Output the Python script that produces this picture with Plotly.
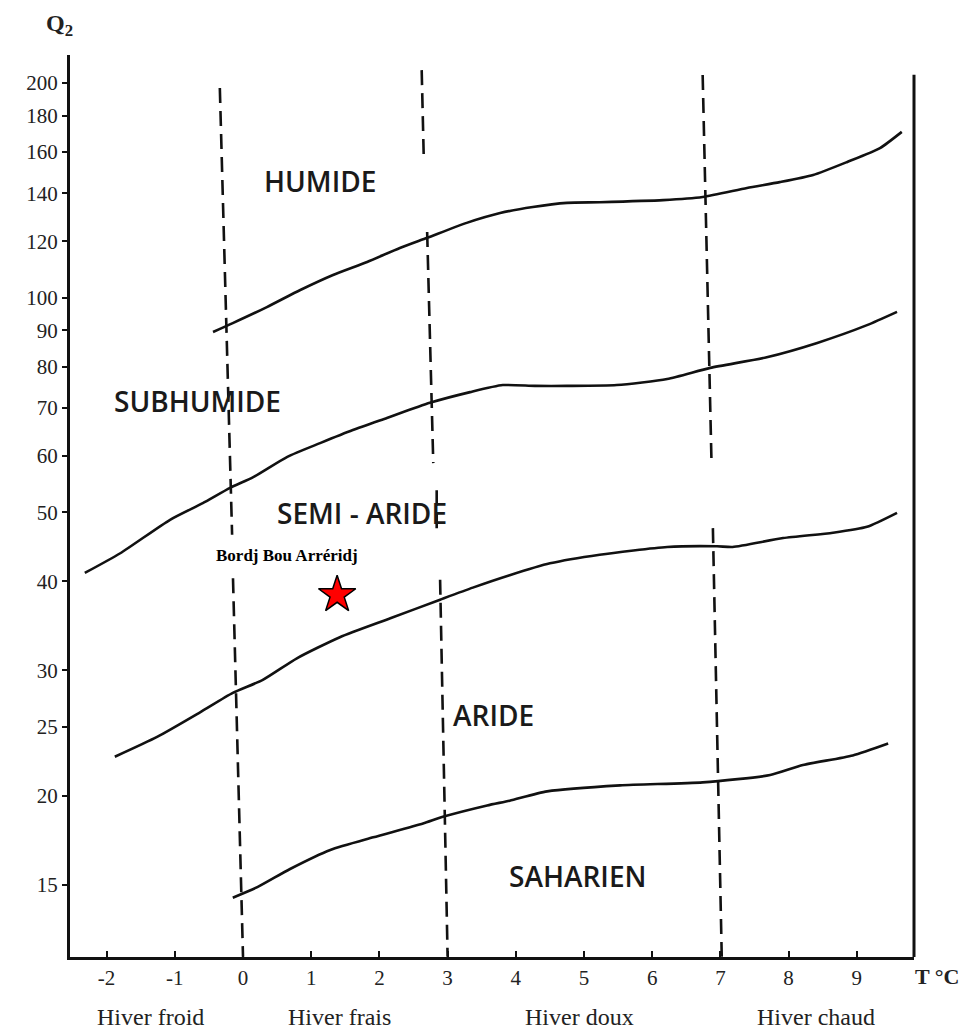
import math
import plotly.graph_objects as go

# ---------------- data ----------------
# Emberger climagram limits: T (m, °C) vs Q2 (log scale)
t_lim1 = [-0.44, -0.15, 0.35, 0.84, 1.32, 1.82, 2.30, 2.70, 3.28, 3.77, 4.25,
          4.75, 5.23, 6.16, 6.74, 7.39, 7.87, 8.36, 8.86, 9.34, 9.66]
q_lim1 = [89.5, 92.1, 97.0, 102.5, 107.6, 112.2, 117.4, 121.3, 127.3, 131.4, 134.0,
          135.8, 136.1, 137.0, 138.4, 142.5, 145.2, 148.6, 155.0, 162.1, 170.8]

t_lim2 = [-2.32, -1.80, -1.07, -0.59, -0.19, 0.15, 0.65, 1.13, 1.61, 2.11, 2.74,
          3.33, 3.81, 4.28, 4.75, 5.48, 6.22, 6.85, 7.68, 8.42, 9.15, 9.59]
q_lim2 = [41.1, 43.8, 48.8, 51.5, 54.1, 56.0, 59.8, 62.5, 65.2, 67.8, 71.2,
          73.7, 75.4, 75.2, 75.2, 75.4, 76.9, 79.7, 82.5, 86.4, 91.5, 95.5]

t_lim3 = [-1.88, -1.26, -0.63, -0.15, 0.29, 0.79, 1.42, 2.16, 2.89, 3.37, 3.91,
          4.50, 5.23, 6.22, 6.95, 7.18, 7.92, 8.65, 9.15, 9.59]
q_lim3 = [22.7, 24.2, 26.2, 27.9, 29.1, 31.2, 33.4, 35.5, 37.7, 39.2, 40.8,
          42.4, 43.6, 44.7, 44.8, 44.7, 46.0, 46.8, 47.7, 49.9]

t_lim4 = [-0.15, 0.21, 0.69, 1.28, 1.91, 2.64, 2.93, 3.58, 3.91, 4.46, 5.53,
          6.74, 7.73, 8.21, 8.94, 9.46]
q_lim4 = [14.4, 14.9, 15.8, 16.8, 17.5, 18.3, 18.7, 19.4, 19.7, 20.3, 20.7,
          20.9, 21.4, 22.1, 22.8, 23.7]

# winter-type dividers (dashed), None = gap in the scanned line
t_div_a = [-0.34, -0.16, None, -0.147, 0.0]
q_div_a = [196.8, 46.5, None, 40.4, 11.9]
t_div_b = [2.62, 2.65, None, 2.70, 2.79, None, 2.84, 2.84, None, 2.89, 3.0]
q_div_b = [208.5, 157.5, None, 123.6, 58.6, None, 53.7, 47.2, None, 40.2, 11.9]
t_div_c = [6.74, 6.87, None, 6.89, 7.02]
q_div_c = [205.2, 58.6, None, 47.5, 11.9]

# station
station_name = "Bordj Bou Arréridj"
station_t = [1.38]
station_q = [38.3]

# zone labels
zone_names = ["HUMIDE", "SUBHUMIDE", "SEMI - ARIDE", "ARIDE", "SAHARIEN"]
zone_t = [1.13, -0.67, 1.74, 3.68, 4.91]
zone_q = [145.8, 71.6, 49.9, 26.0, 15.45]

winter_names = ["Hiver froid", "Hiver frais", "Hiver doux", "Hiver chaud"]
winter_t = [-1.35, 1.42, 4.94, 8.40]

x_ticks = list(range(-2, 10))
y_ticks = [15, 20, 25, 30, 40, 50, 60, 70, 80, 90, 100, 120, 140, 160, 180, 200]

# ---------------- figure ----------------
fig = go.Figure()

line_style = dict(color="#111111", width=2.6, shape="spline", smoothing=0.6)
for tx, qy in [(t_lim1, q_lim1), (t_lim2, q_lim2), (t_lim3, q_lim3), (t_lim4, q_lim4)]:
    fig.add_trace(go.Scatter(x=tx, y=qy, mode="lines", line=line_style,
                             hoverinfo="skip", showlegend=False))

dash_style = dict(color="#111111", width=2.6, dash="15px,8px")
for tx, qy in [(t_div_a, q_div_a), (t_div_b, q_div_b), (t_div_c, q_div_c)]:
    fig.add_trace(go.Scatter(x=tx, y=qy, mode="lines", line=dash_style,
                             connectgaps=False, hoverinfo="skip", showlegend=False))

fig.add_trace(go.Scatter(
    x=station_t, y=station_q, mode="markers",
    marker=dict(symbol="star", size=28, color="#ff0000",
                line=dict(color="black", width=1.5)),
    showlegend=False, name=station_name))

serif = "Liberation Serif"
sans = "Open Sans"

annotations = []
for name, tx, qy in zip(zone_names, zone_t, zone_q):
    annotations.append(dict(x=tx, y=math.log10(qy), xref="x", yref="y", text=name,
                            showarrow=False, xanchor="center", yanchor="middle",
                            font=dict(family=sans, size=28, color="#1a1a1a", weight=600)))

annotations.append(dict(x=station_t[0], y=math.log10(station_q[0]), xref="x", yref="y",
                        text="<b>" + station_name + "</b>", showarrow=False,
                        xshift=-50, yshift=39, xanchor="center", yanchor="middle",
                        font=dict(family=serif, size=17, color="black")))

for name, tx in zip(winter_names, winter_t):
    annotations.append(dict(x=tx, y=-0.066, xref="x", yref="paper", text=name,
                            showarrow=False, xanchor="center", yanchor="middle",
                            font=dict(family=serif, size=24, color="#222222")))

annotations.append(dict(x=-0.013, y=1.033, xref="paper", yref="paper",
                        text="<b>Q<sub>2</sub></b>", showarrow=False,
                        xanchor="center", yanchor="middle",
                        font=dict(family=serif, size=24, color="#222222")))
annotations.append(dict(x=1.027, y=-0.022, xref="paper", yref="paper",
                        text="<b>T °C</b>", showarrow=False,
                        xanchor="center", yanchor="middle",
                        font=dict(family=serif, size=22, color="#222222")))

# the page body adds an 8px offset, so sizes/margins are shifted to compensate
fig.update_layout(
    width=960, height=1024,
    margin=dict(l=62, r=54, t=47, b=75),
    paper_bgcolor="white", plot_bgcolor="white",
    annotations=annotations,
    shapes=[dict(type="line", xref="paper", yref="paper", x0=1, x1=1, y0=0, y1=0.978,
                 line=dict(color="#111111", width=3))],
    xaxis=dict(range=[-2.537, 9.839], tickmode="array", tickvals=x_ticks,
               ticktext=[str(v) for v in x_ticks],
               showgrid=False, zeroline=False, showline=True, linecolor="#111111",
               linewidth=3, ticks="inside", ticklen=6, tickwidth=2, tickcolor="#111111",
               ticklabelstandoff=0,
               tickfont=dict(family=serif, size=21, color="#222222")),
    yaxis=dict(type="log", range=[1.0752, 2.3403], tickmode="array", tickvals=y_ticks,
               ticktext=[str(v) for v in y_ticks],
               showgrid=False, zeroline=False, showline=True, linecolor="#111111",
               linewidth=3, ticks="outside", ticklen=5, tickwidth=2, tickcolor="#111111",
               tickfont=dict(family=serif, size=21, color="#222222")),
)

fig.write_html("out.html")
